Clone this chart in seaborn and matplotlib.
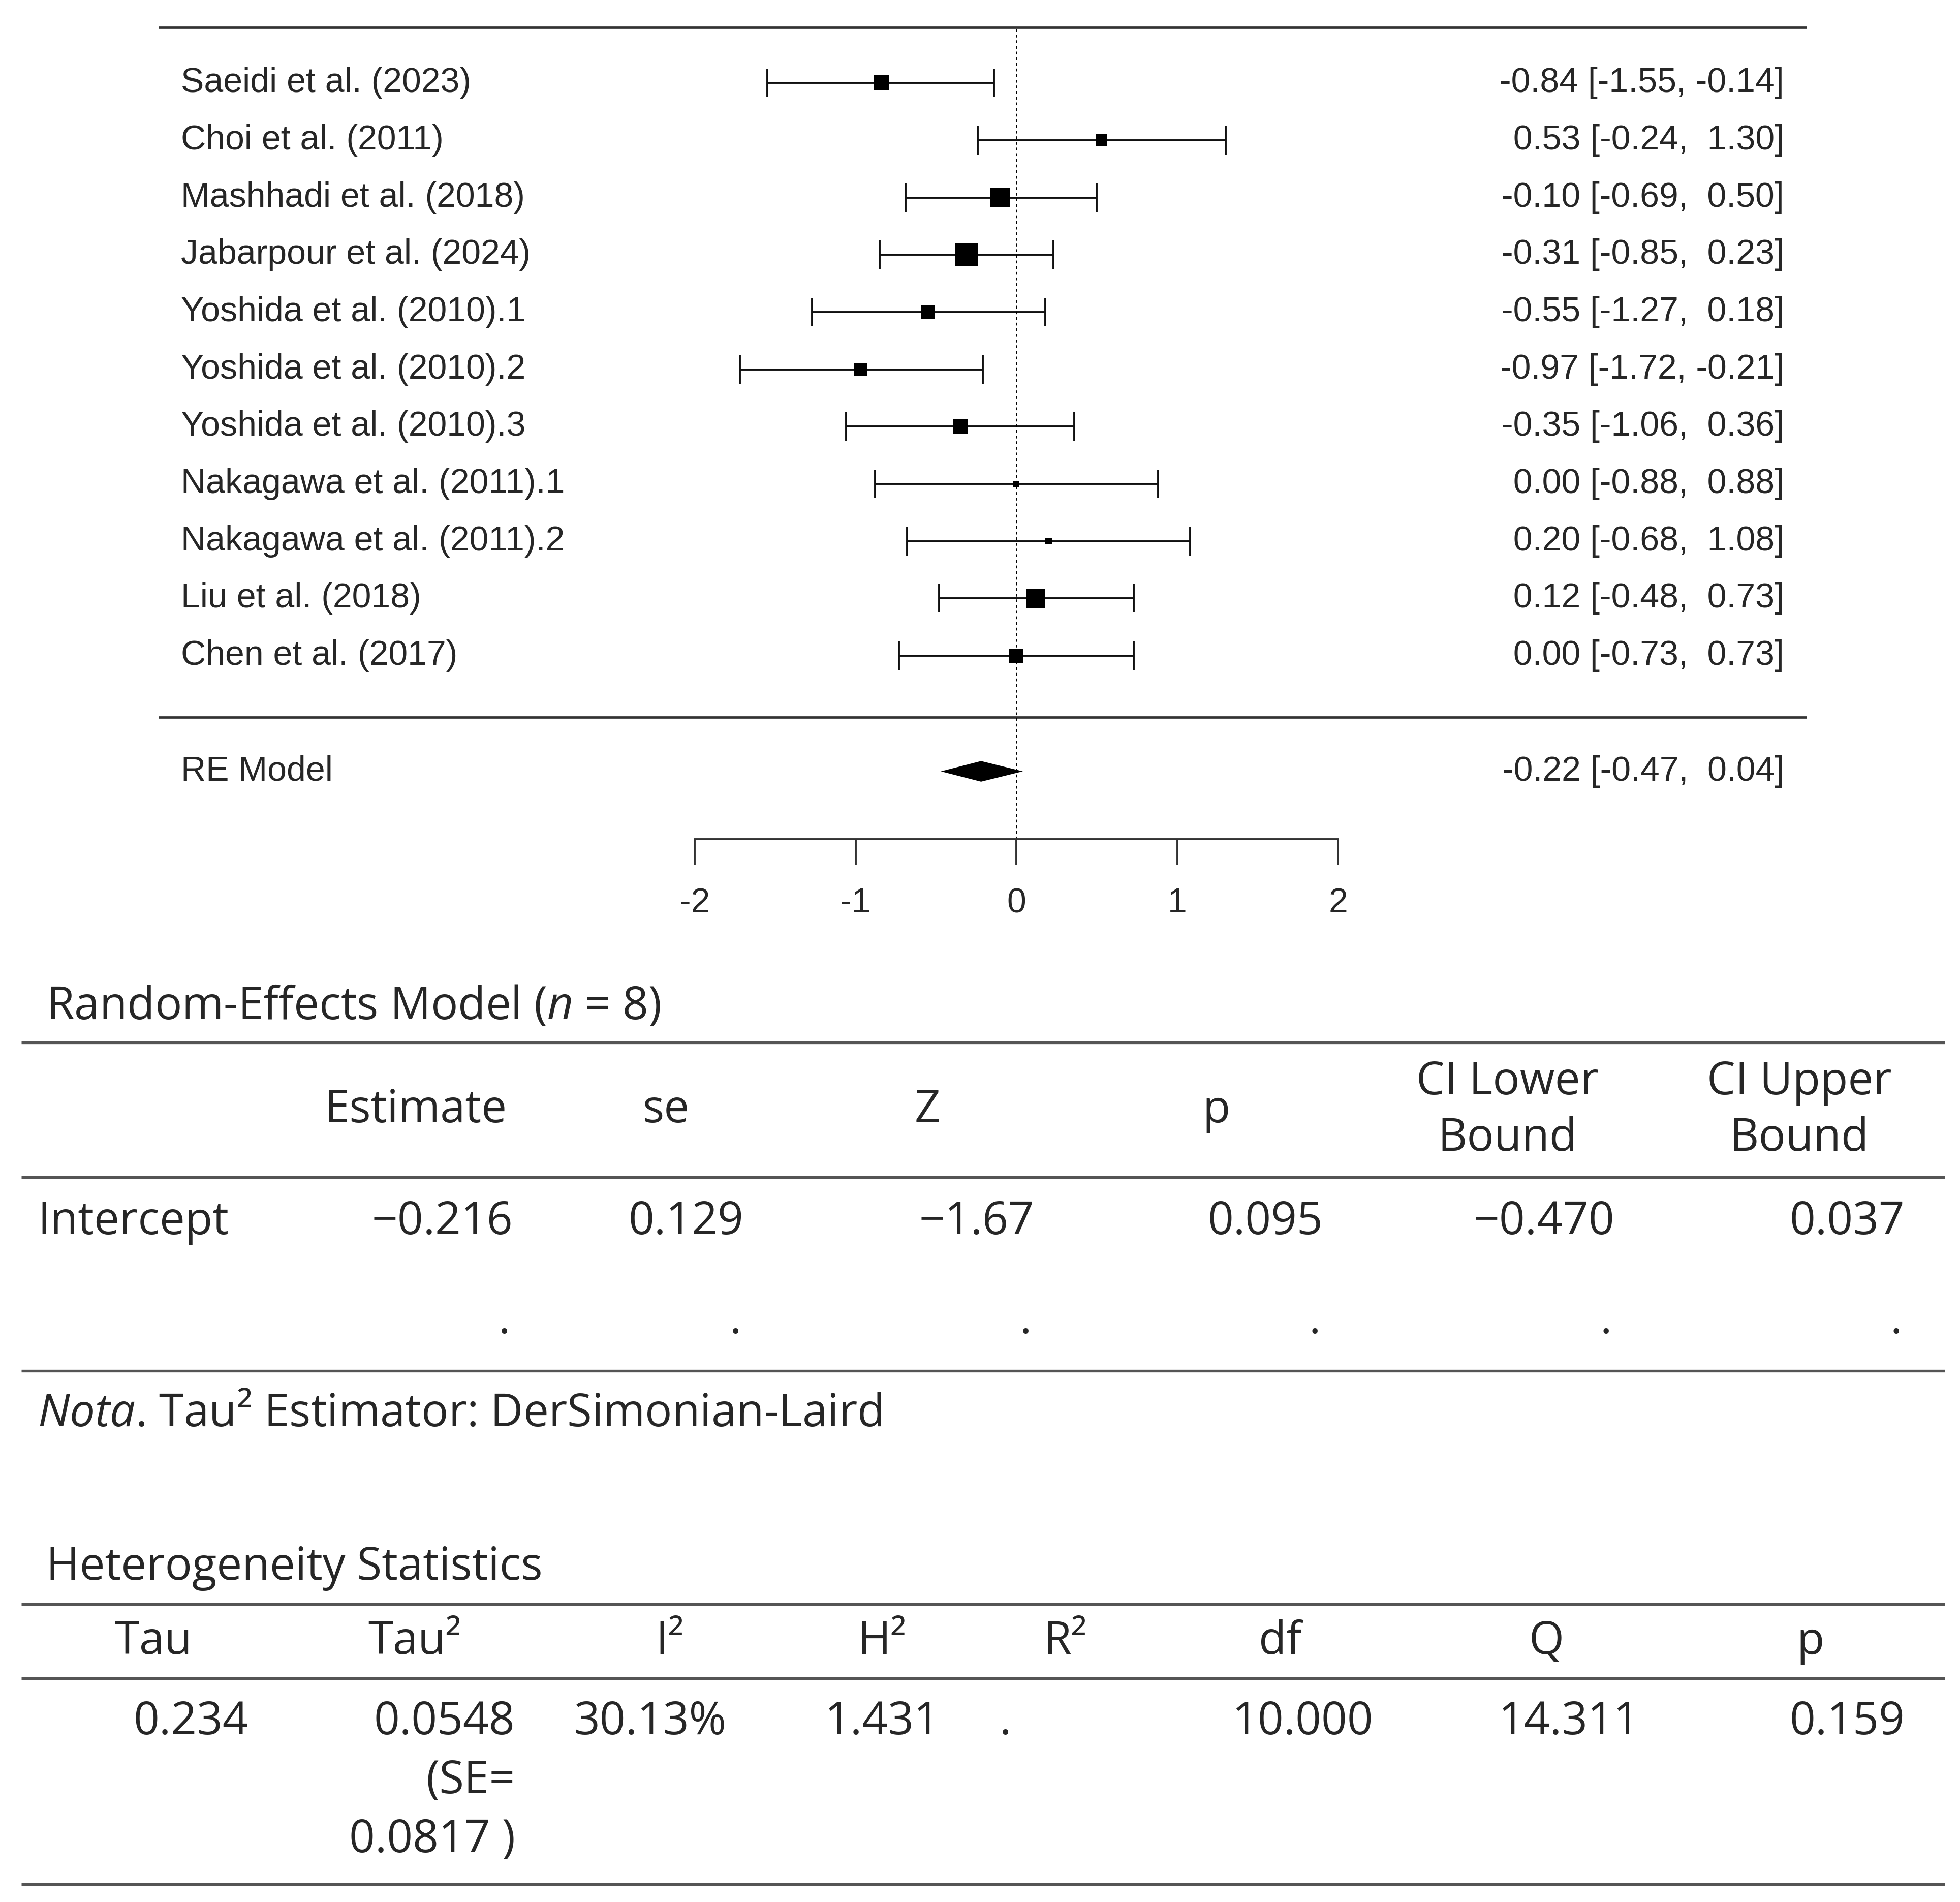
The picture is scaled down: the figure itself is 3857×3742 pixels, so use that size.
import numpy as np
import pandas as pd
import matplotlib
matplotlib.use("Agg")
import matplotlib.pyplot as plt
import seaborn as sns

# ---------------- data ----------------
studies = ["Saeidi et al. (2023)", "Choi et al. (2011)", "Mashhadi et al. (2018)",
           "Jabarpour et al. (2024)", "Yoshida et al. (2010).1", "Yoshida et al. (2010).2",
           "Yoshida et al. (2010).3", "Nakagawa et al. (2011).1", "Nakagawa et al. (2011).2",
           "Liu et al. (2018)", "Chen et al. (2017)"]
estimates = [-0.84, 0.53, -0.10, -0.31, -0.55, -0.97, -0.35, 0.00, 0.20, 0.12, 0.00]
ci_lower = [-1.55, -0.24, -0.69, -0.85, -1.27, -1.72, -1.06, -0.88, -0.68, -0.48, -0.73]
ci_upper = [-0.14, 1.30, 0.50, 0.23, 0.18, -0.21, 0.36, 0.88, 1.08, 0.73, 0.73]
weights = [9.1, 7.8, 11.4, 12.8, 8.7, 8.2, 9.0, 6.5, 6.5, 11.2, 8.7]

re_label = "RE Model"
re_estimate = -0.22
re_lower = -0.47
re_upper = 0.04
x_ticks = [-2, -1, 0, 1, 2]

t1_title = "Random-Effects Model ($n$ = 8)"
t1_headers = ["Estimate", "se", "Z", "p", "CI Lower\nBound", "CI Upper\nBound"]
t1_row_label = "Intercept"
t1_values = ["\u22120.216", "0.129", "\u22121.67", "0.095", "\u22120.470", "0.037"]
t1_second_row = [".", ".", ".", ".", ".", "."]
t1_note = "$Nota$. Tau\u00b2 Estimator: DerSimonian-Laird"

t2_title = "Heterogeneity Statistics"
t2_headers = ["Tau", "Tau\u00b2", "I\u00b2", "H\u00b2", "R\u00b2", "df", "Q", "p"]
t2_values = ["0.234", "0.0548\n(SE=\n0.0817 )", "30.13%", "1.431", ".", "10.000", "14.311", "0.159"]

# ---------------- style ----------------
sns.set_theme(style="white")
plt.rcParams["font.family"] = ["Liberation Sans", "DejaVu Sans"]
plt.rcParams["axes.unicode_minus"] = False
plt.rcParams["mathtext.fontset"] = "custom"
plt.rcParams["mathtext.rm"] = "Open Sans"
plt.rcParams["mathtext.it"] = "Open Sans:italic"

W, H = 1560.0, 1514.0           # layout grid (reference preview pixels)
X0, XS = 809.0, 128.0           # effect 0 position and px per unit
fig = plt.figure(figsize=(3857 / 200, 3742 / 200), dpi=200)
fig.patch.set_facecolor("white")

# ---------------- forest plot ----------------
FOREST_H = 740.0
ax = fig.add_axes([0, 1 - FOREST_H / H, 1, FOREST_H / H])
ax.set_facecolor("none")
row_step = 45.6
row_y0 = 522.0
def k_of(py):
    return 1 + (row_y0 - py) / row_step
ax.set_xlim(-X0 / XS, (W - X0) / XS)
ax.set_ylim(k_of(FOREST_H), k_of(0))

n = len(studies)
rows = np.arange(n, 0, -1)
df = pd.DataFrame({"study": studies, "est": estimates, "lo": ci_lower,
                   "hi": ci_upper, "w": weights, "row": rows})

fs_forest = 24.5
ax.errorbar(df["est"], df["row"],
            xerr=[df["est"] - df["lo"], df["hi"] - df["est"]],
            fmt="none", ecolor="#111111", elinewidth=1.4, capsize=10, capthick=1.4, zorder=2)
sns.scatterplot(data=df, x="est", y="row", size="w", sizes=(20, 250), marker="s",
                color="black", linewidth=0, legend=False, ax=ax, zorder=3)

x_left, x_right = (126 - X0) / XS, (1438 - X0) / XS
ax.hlines([k_of(22), k_of(571)], x_left, x_right, color="#333333", lw=1.7)
ax.vlines(0, k_of(668), k_of(22), color="black", lw=1.0, linestyles=(0, (2, 2)))

lab_x = (144 - X0) / XS
txt_x = (1420 - X0) / XS
for _, r in df.iterrows():
    ax.text(lab_x, r["row"], r["study"], ha="left", va="center", fontsize=fs_forest)
    ax.text(txt_x, r["row"], f"{r['est']:5.2f} [{r['lo']:5.2f}, {r['hi']:5.2f}]",
            ha="right", va="center", fontsize=fs_forest)

k_re = k_of(614)
dh = 0.18
ax.fill([re_lower, re_estimate, re_upper, re_estimate],
        [k_re, k_re + dh, k_re, k_re - dh], color="black", lw=0)
ax.text(lab_x, k_re, re_label, ha="left", va="center", fontsize=fs_forest)
ax.text(txt_x, k_re, f"{re_estimate:5.2f} [{re_lower:5.2f}, {re_upper:5.2f}]",
        ha="right", va="center", fontsize=fs_forest)

for s in ["left", "top", "right"]:
    ax.spines[s].set_visible(False)
ax.spines["bottom"].set_position(("data", k_of(668)))
ax.spines["bottom"].set_bounds(min(x_ticks), max(x_ticks))
ax.spines["bottom"].set_color("#333333")
ax.spines["bottom"].set_linewidth(1.4)
ax.set_xticks(x_ticks)
ax.set_xticklabels([str(t) for t in x_ticks])
ax.set_yticks([])
ax.tick_params(axis="x", direction="out", length=18, width=1.4, color="#333333",
               pad=16, labelsize=fs_forest, bottom=True)
ax.set_xlabel("")
ax.set_ylabel("")
ax.grid(False)

# ---------------- tables ----------------
tx = fig.add_axes([0, 0, 1, 1], zorder=-1)
tx.set_xlim(0, W)
tx.set_ylim(H, 0)
tx.axis("off")
tfam = ["Open Sans", "DejaVu Sans"]
fs_t = 32
line_c = "#555555"
LX0, LX1 = 17, 1548
LSTEP = 47

def put(x, y, s, ha):
    lines = s.split("\n")
    for i, ln in enumerate(lines):
        tx.text(x, y + i * LSTEP, ln, ha=ha, va="center", fontsize=fs_t, family=tfam)

def put_header(x, yc, s):
    lines = s.split("\n")
    off = (len(lines) - 1) * 45 / 2
    for i, ln in enumerate(lines):
        tx.text(x, yc - off + i * 45, ln, ha="center", va="center", fontsize=fs_t, family=tfam)

# table 1
tx.text(37, 802, t1_title, ha="left", va="center", fontsize=fs_t, family=tfam)
tx.hlines([830, 937, 1091], LX0, LX1, color=line_c, lw=1.9)
t1_hx = [331, 530, 738, 968, 1200, 1432]
t1_vx = [408, 592, 823, 1053, 1285, 1516]
for hxx, h in zip(t1_hx, t1_headers):
    put_header(hxx, 884, h)
tx.text(30, 973, t1_row_label, ha="left", va="center", fontsize=fs_t, family=tfam)
for vx, v in zip(t1_vx, t1_values):
    put(vx, 973, v, "right")
for vx, v in zip(t1_vx, t1_second_row):
    put(vx - 2, 1052, v, "right")
tx.text(30, 1126, t1_note, ha="left", va="center", fontsize=fs_t, family=tfam)

# table 2
tx.text(37, 1248, t2_title, ha="left", va="center", fontsize=fs_t, family=tfam)
tx.hlines([1277, 1336, 1500], LX0, LX1, color=line_c, lw=1.9)
t2_hx = [122, 330, 533, 702, 848, 1019, 1231, 1441]
t2_vx = [198, 410, 578, 748, 805, 1093, 1305, 1516]
for hxx, h in zip(t2_hx, t2_headers):
    put_header(hxx, 1307, h)
for vx, v in zip(t2_vx, t2_values):
    put(vx, 1371, v, "right")

fig.savefig("out.png", dpi=200, facecolor="white")
